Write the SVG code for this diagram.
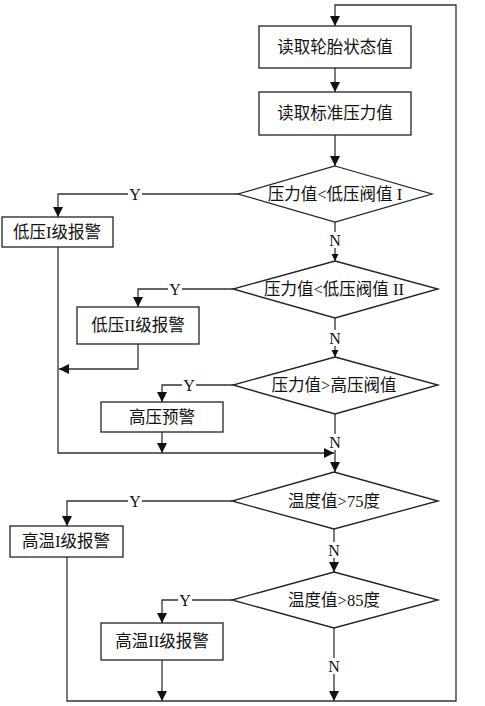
<svg xmlns="http://www.w3.org/2000/svg" width="485" height="706" viewBox="0 0 485 706">
<style>
.box{fill:#fff;stroke:#222;stroke-width:1.3}
.dia{fill:#fff;stroke:#222;stroke-width:1.3}
.ln{fill:none;stroke:#333;stroke-width:1.3}
.t{font-family:"Liberation Serif","Noto Sans CJK SC",serif;font-size:16.5px;fill:#111;text-anchor:middle}
.lb{font-family:"Liberation Serif","Noto Sans CJK SC",serif;font-size:16px;fill:#111;text-anchor:middle}
.bg{fill:#fff}
</style>
<defs>
<marker id="ab" viewBox="0 0 10 10" refX="10" refY="5" markerWidth="10" markerHeight="10" markerUnits="userSpaceOnUse" orient="auto"><path d="M0,0 L10,5 L0,10 z" fill="#111"/></marker>
<marker id="as" viewBox="0 0 10 10" refX="10" refY="5" markerWidth="7.5" markerHeight="7.5" markerUnits="userSpaceOnUse" orient="auto"><path d="M0,0 L10,5 L0,10 z" fill="#111"/></marker>
</defs>
<rect width="485" height="706" fill="#fff"/>
<g id="connectors">
<path class="ln" d="M67,557 V701 H456 V5 H335 V26" marker-end="url(#ab)"/>
<path class="ln" d="M335,68 V92" marker-end="url(#ab)"/>
<path class="ln" d="M335,135 V166" marker-end="url(#ab)"/>
<path class="ln" d="M238,194 H58 V217" marker-end="url(#ab)"/>
<path class="ln" d="M335,222 V261" marker-end="url(#as)"/>
<path class="ln" d="M233,289 H138 V307" marker-end="url(#ab)"/>
<path class="ln" d="M335,318 V357" marker-end="url(#as)"/>
<path class="ln" d="M138,344 V369 H59" marker-end="url(#ab)"/>
<path class="ln" d="M233,385 H162 V402" marker-end="url(#ab)"/>
<path class="ln" d="M58,247 V453 H334" marker-end="url(#ab)"/>
<path class="ln" d="M162,432 V453" marker-end="url(#ab)"/>
<path class="ln" d="M335,414 V472" marker-end="url(#ab)"/>
<path class="ln" d="M232,501 H67 V526" marker-end="url(#ab)"/>
<path class="ln" d="M334,529 V572" marker-end="url(#ab)"/>
<path class="ln" d="M232,600 H162 V623" marker-end="url(#ab)"/>
<path class="ln" d="M334,628 V701" marker-end="url(#ab)"/>
<path class="ln" d="M162,660 V701" marker-end="url(#ab)"/>
<g id="labels">
<rect class="bg" x="128" y="186" width="14" height="16"/><text class="lb" x="135" y="200">Y</text>
<rect class="bg" x="168" y="281" width="14" height="16"/><text class="lb" x="175" y="295">Y</text>
<rect class="bg" x="182" y="377" width="14" height="16"/><text class="lb" x="189" y="391">Y</text>
<rect class="bg" x="128" y="493" width="14" height="16"/><text class="lb" x="135" y="507">Y</text>
<rect class="bg" x="178" y="592" width="14" height="16"/><text class="lb" x="185" y="606">Y</text>
<rect class="bg" x="328" y="232" width="14" height="16"/><text class="lb" x="335" y="246">N</text>
<rect class="bg" x="328" y="330" width="14" height="16"/><text class="lb" x="335" y="344">N</text>
<rect class="bg" x="328" y="434" width="14" height="16"/><text class="lb" x="335" y="448">N</text>
<rect class="bg" x="327" y="542" width="14" height="16"/><text class="lb" x="334" y="556">N</text>
<rect class="bg" x="327" y="658" width="14" height="16"/><text class="lb" x="334" y="672">N</text>
</g>
</g>
<g id="b1"><rect class="box" x="259" y="26" width="152" height="42"/><text class="t" x="335" y="53">读取轮胎状态值</text></g>
<g id="b2"><rect class="box" x="259" y="92" width="152" height="43"/><text class="t" x="335" y="119">读取标准压力值</text></g>
<g id="d1"><polygon class="dia" points="335,166 432,194 335,222 238,194"/><text class="t" x="335" y="200">压力值&lt;低压阀值 I</text></g>
<g id="b3"><rect class="box" x="2" y="217" width="111" height="30"/><text class="t" x="57" y="238">低压I级报警</text></g>
<g id="d2"><polygon class="dia" points="335,261 438,289 335,318 233,289"/><text class="t" x="334" y="295">压力值&lt;低压阀值 II</text></g>
<g id="b4"><rect class="box" x="77" y="307" width="122" height="37"/><text class="t" x="138" y="331">低压II级报警</text></g>
<g id="d3"><polygon class="dia" points="335,357 438,385 335,414 233,385"/><text class="t" x="334" y="391">压力值&gt;高压阀值</text></g>
<g id="b5"><rect class="box" x="101" y="402" width="122" height="30"/><text class="t" x="162" y="423">高压预警</text></g>
<g id="d4"><polygon class="dia" points="334,472 438,501 334,529 232,501"/><text class="t" x="334" y="507">温度值&gt;75度</text></g>
<g id="b6"><rect class="box" x="10" y="526" width="113" height="31"/><text class="t" x="66" y="547">高温I级报警</text></g>
<g id="d5"><polygon class="dia" points="334,572 438,600 334,628 232,600"/><text class="t" x="334" y="606">温度值&gt;85度</text></g>
<g id="b7"><rect class="box" x="101" y="623" width="122" height="37"/><text class="t" x="162" y="647">高温II级报警</text></g>
</svg>
